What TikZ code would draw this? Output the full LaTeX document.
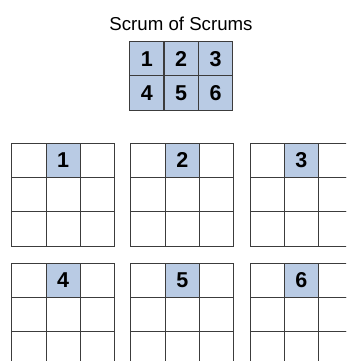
\documentclass[tikz,border=0pt]{standalone}
\usepackage{fontspec}
\setmainfont{Liberation Sans}
\usetikzlibrary{positioning}
\definecolor{scrumblue}{HTML}{B9CBE4}
\definecolor{gridline}{HTML}{3C3C3C}

\begin{document}
\begin{tikzpicture}[x=1pt,y=-1pt,
    cell/.style={draw=gridline,line width=1pt,minimum width=34.3pt,minimum height=34.3pt,
                 inner sep=0pt,outer sep=0pt,font=\fontsize{21.5}{22}\selectfont\bfseries},
    lead/.style={cell,fill=scrumblue}]
  \useasboundingbox (0,0) rectangle (346,361);
  \clip (0,0) rectangle (346,361);
  \node[anchor=base,font=\fontsize{18.67}{22}\selectfont] (title) at (181,30.3) {Scrum of Scrums};
  \foreach \n in {1,...,6}{
    \pgfmathtruncatemacro{\col}{mod(\n-1,3)}
    \pgfmathtruncatemacro{\row}{(\n-1)/3}
    % seat of team \n in the scrum of scrums
    \node[lead] (sos\n) at ({146.75+34.4*\col},{58.65+34.3*\row}) {\n};
    % the team itself, its delegate on top
    \foreach \r in {0,1,2}{
      \foreach \c in {0,1,2}{
        \node[cell] (team\n-\r\c) at ({28.85+119.15*\col+34.3*\c},{160.45+120*\row+34.3*\r}) {};
      }
    }
    \node[lead] (delegate\n) at (team\n-01) {\n};
  }
\end{tikzpicture}
\end{document}
